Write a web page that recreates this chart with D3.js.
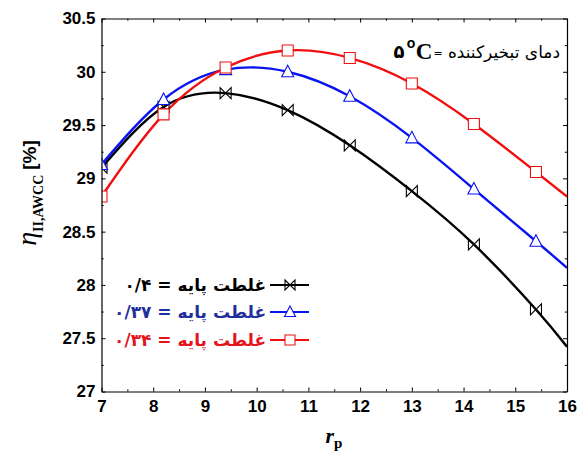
<!DOCTYPE html>
<html>
<head>
<meta charset="utf-8">
<script src="https://cdn.jsdelivr.net/npm/d3@7"></script>
<style>
  html, body { margin: 0; padding: 0; background: #fff; }
  svg { display: block; }
</style>
</head>
<body>
<svg id="chart" width="580" height="455"></svg>
<script>
// Compression ratio values where the curves are sampled
const rp = [7, 8.2, 9.4, 10.6, 11.8, 13, 14.2, 15.4, 16];
// Number of leading samples that carry a marker (the last sample at 16 has none)
const markerCount = 8;

// Second-law efficiency [%] for each base thickness
const eta040 = [29.10, 29.67, 29.80, 29.64, 29.31, 28.88, 28.38, 27.77, 27.42];
const eta037 = [29.13, 29.74, 30.02, 30.00, 29.77, 29.38, 28.90, 28.41, 28.16];
const eta034 = [28.83, 29.60, 30.04, 30.20, 30.13, 29.89, 29.51, 29.06, 28.83];

const seriesLabels = ["غلطت پایه = ۰/۴", "غلطت پایه = ۰/۳۷", "غلطت پایه = ۰/۳۴"];
const xTicks = [7, 8, 9, 10, 11, 12, 13, 14, 15, 16];
const yTicks = [27, 27.5, 28, 28.5, 29, 29.5, 30, 30.5];

const svg = d3.select("#chart");
const L = 101.5, R = 567, T = 18.5, B = 391.5;

const x = d3.scaleLinear().domain([7, 16]).range([L, R]);
const y = d3.scaleLinear().domain([27, 30.5]).range([B, T]);

const series = [
  { values: eta040, line: "#000000", text: "#000000", marker: "bowtie" },
  { values: eta037, line: "#0a14f0", text: "#1f2f9c", marker: "triangle" },
  { values: eta034, line: "#f01010", text: "#e3141c", marker: "square" }
];

svg.append("defs").append("clipPath").attr("id", "plotClip")
  .append("rect").attr("x", L).attr("y", T).attr("width", R - L).attr("height", B - T);

// Marker shapes centred at the origin
function markerPath(kind, s) {
  const h = s / 2;
  if (kind === "square") return `M${-h},${-h}H${h}V${h}H${-h}Z`;
  if (kind === "triangle") return `M0,${-h - 1}L${h + 0.5},${h - 0.5}L${-h - 0.5},${h - 0.5}Z`;
  // bowtie: two triangles meeting at the centre, with vertical ends
  return `M${-h},${-h}L${h},${h}V${-h}L${-h},${h}Z`;
}

const plot = svg.append("g").attr("clip-path", "url(#plotClip)");
const line = d3.line().x((d, i) => x(rp[i])).y(d => y(d)).curve(d3.curveNatural);

series.forEach(s => {
  plot.append("path").attr("d", line(s.values))
    .attr("fill", "none").attr("stroke", s.line).attr("stroke-width", 2.4);
});
series.forEach(s => {
  plot.selectAll(null).data(s.values.slice(0, markerCount)).join("path")
    .attr("transform", (d, i) => `translate(${x(rp[i])},${y(d)})`)
    .attr("d", markerPath(s.marker, 11))
    .attr("fill", s.marker === "bowtie" ? "none" : "#fff")
    .attr("stroke", s.marker === "bowtie" ? "#000" : s.line)
    .attr("stroke-width", 1.1);
});

// Frame with inward ticks on all four sides
const axes = svg.append("g");
const tickLen = 4, minorLen = 2.2;
const axisB = d3.axisBottom(x).tickValues(xTicks).tickSize(-tickLen).tickFormat(d3.format("d")).tickPadding(8);
const axisT = d3.axisTop(x).tickValues(xTicks).tickSize(-tickLen).tickFormat("");
const axisL = d3.axisLeft(y).tickValues(yTicks).tickSize(-tickLen).tickFormat(d => String(d)).tickPadding(6);
const axisR = d3.axisRight(y).tickValues(yTicks).tickSize(-tickLen).tickFormat("");

const minorX = d3.range(7.5, 16, 1);
const minorY = d3.range(27.25, 30.5, 0.5);

[[axisB, `translate(0,${B})`, d3.axisBottom(x).tickValues(minorX)],
 [axisT, `translate(0,${T})`, d3.axisTop(x).tickValues(minorX)],
 [axisL, `translate(${L},0)`, d3.axisLeft(y).tickValues(minorY)],
 [axisR, `translate(${R},0)`, d3.axisRight(y).tickValues(minorY)]].forEach(([ax, tr, minor]) => {
  axes.append("g").attr("transform", tr)
    .call(minor.tickSize(-minorLen).tickFormat("").tickSizeOuter(0))
    .call(g => g.select(".domain").remove());
  axes.append("g").attr("transform", tr).call(ax.tickSizeOuter(0));
});
axes.selectAll("line").attr("stroke", "#000").attr("stroke-width", 1);
axes.selectAll(".domain").attr("stroke", "#000").attr("stroke-width", 1.2);
axes.selectAll("text")
  .attr("font-family", "Liberation Sans, Arial, sans-serif")
  .attr("font-weight", "bold").attr("font-size", 17).attr("fill", "#000");

// Axis titles
const xt = svg.append("text").attr("x", 334).attr("y", 443)
  .attr("text-anchor", "middle").attr("font-family", "Liberation Serif, Times New Roman, serif")
  .attr("font-weight", "bold").attr("fill", "#000");
xt.append("tspan").attr("font-style", "italic").attr("font-size", 22).text("r");
xt.append("tspan").attr("font-size", 15).attr("dy", 5).text("p");

const yt = svg.append("text").attr("transform", "translate(36,193) rotate(-90)")
  .attr("text-anchor", "middle").attr("fill", "#000");
yt.append("tspan").attr("font-family", "Liberation Serif, Times New Roman, serif")
  .attr("font-style", "italic").attr("font-size", 28).text("η");
yt.append("tspan").attr("font-family", "Liberation Serif, Times New Roman, serif")
  .attr("font-weight", "bold").attr("font-size", 14).attr("dy", 7).text("II,AWCC");
yt.append("tspan").attr("font-family", "Liberation Sans, Arial, sans-serif")
  .attr("font-weight", "bold").attr("font-size", 19).attr("dy", -7).attr("dx", 5).text("[%]");

// Evaporator temperature note (right-to-left text anchored at its right end)
const note = svg.append("g").attr("fill", "#000");
note.append("text").attr("x", 560).attr("y", 58).attr("text-anchor", "start")
  .attr("direction", "rtl").attr("font-family", "DejaVu Sans, sans-serif")
  .attr("font-size", 17).text("دمای تبخیرکننده");
note.append("text").attr("x", 438).attr("y", 57).attr("text-anchor", "middle")
  .attr("font-family", "DejaVu Sans, sans-serif").attr("font-size", 11).text("=");
note.append("text").attr("x", 424).attr("y", 59).attr("text-anchor", "middle")
  .attr("font-family", "Liberation Serif, Times New Roman, serif").attr("font-weight", "bold")
  .attr("font-size", 23).text("C");
note.append("text").attr("x", 411).attr("y", 48).attr("text-anchor", "middle")
  .attr("font-family", "Liberation Sans, Arial, sans-serif").attr("font-weight", "bold")
  .attr("font-size", 14).text("o");
note.append("text").attr("x", 399).attr("y", 58).attr("text-anchor", "middle")
  .attr("font-family", "DejaVu Sans, sans-serif").attr("font-weight", "bold")
  .attr("font-size", 18).text("۵");

// Legend
const legendY = [285, 312, 340];
series.forEach((s, i) => {
  const g = svg.append("g").attr("transform", `translate(0,${legendY[i]})`);
  g.append("line").attr("x1", 270).attr("x2", 309).attr("y1", 0).attr("y2", 0)
    .attr("stroke", s.line).attr("stroke-width", 2.2);
  g.append("path").attr("transform", "translate(290,0)")
    .attr("d", markerPath(s.marker, 10))
    .attr("fill", s.marker === "bowtie" ? "none" : "#fff")
    .attr("stroke", s.marker === "bowtie" ? "#000" : s.line).attr("stroke-width", 1.1);
  g.append("text").attr("x", 266).attr("y", 6).attr("text-anchor", "start")
    .attr("direction", "rtl").attr("font-family", "DejaVu Sans, sans-serif")
    .attr("font-weight", "bold").attr("font-size", 17).attr("fill", s.text)
    .text(seriesLabels[i]);
});
</script>
</body>
</html>
